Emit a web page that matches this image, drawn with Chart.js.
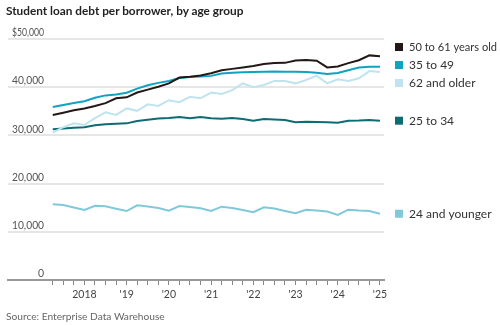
<!DOCTYPE html>
<html>
<head>
<meta charset="utf-8">
<script src="https://cdn.jsdelivr.net/npm/chart.js@4"></script>
<style>
  body { margin: 0; background: #fff; }
  #wrap { position: relative; width: 500px; height: 326px; }
  #title { position: absolute; left: 6px; top: 3px; font: bold 11.8px Lato, sans-serif; color: #222; }
  #source { position: absolute; left: 6px; top: 310px; font: 10.2px Lato, sans-serif; color: #666; }
</style>
</head>
<body>
<div id="wrap">
  <canvas id="debtChart" width="500" height="326"></canvas>
  <div id="title">Student loan debt per borrower, by age group</div>
  <div id="source">Source: Enterprise Data Warehouse</div>
</div>
<script>
// quarterly, 2017 Q2 through 2025 Q1
const quarters = [
  '2017 Q2','2017 Q3','2017 Q4',
  '2018 Q1','2018 Q2','2018 Q3','2018 Q4',
  '2019 Q1','2019 Q2','2019 Q3','2019 Q4',
  '2020 Q1','2020 Q2','2020 Q3','2020 Q4',
  '2021 Q1','2021 Q2','2021 Q3','2021 Q4',
  '2022 Q1','2022 Q2','2022 Q3','2022 Q4',
  '2023 Q1','2023 Q2','2023 Q3','2023 Q4',
  '2024 Q1','2024 Q2','2024 Q3','2024 Q4',
  '2025 Q1'
];

const age50to61 = [34230,34700,35200,35600,36100,36700,37700,37900,38900,39500,40100,40800,
  42000,42150,42450,42900,43500,43800,44100,44400,44800,45000,45050,45550,45650,45500,
  44100,44300,45000,45600,46600,46400];
const age35to49 = [35900,36300,36700,37100,37800,38300,38500,38850,39700,40400,40900,41300,
  41900,42100,42200,42350,42850,43000,43100,43150,43200,43250,43220,43200,43150,43000,
  42750,42950,43500,44100,44250,44250];
const age62plus = [30560,31700,32500,32150,33600,34800,34250,35600,35100,36450,36100,37300,
  36900,38000,37700,38900,38600,39400,40800,40000,40450,41300,41300,40800,41500,42400,
  40800,41650,41300,41850,43350,43150];
const age25to34 = [31260,31450,31600,31700,32100,32300,32400,32500,33000,33250,33500,33600,
  33800,33550,33800,33550,33450,33600,33400,33050,33400,33300,33200,32750,32850,32800,
  32720,32650,33050,33100,33200,33050];
const age24under = [15700,15560,15040,14520,15410,15290,14790,14310,15500,15250,14940,14380,
  15350,15150,14880,14310,15210,14940,14520,14050,15080,14830,14310,13840,14580,14420,
  14210,13490,14580,14420,14310,13750];

const yTicks = [0, 10000, 20000, 30000, 40000, 50000];
const yearLabels = {2018: '2018', 2019: "'19", 2020: "'20", 2021: "'21", 2022: "'22", 2023: "'23", 2024: "'24", 2025: "'25"};

function qToNum(q) {
  const [y, qq] = q.split(' Q');
  return +y + (+qq - 1) / 4;
}
const xs = quarters.map(qToNum);
const pts = arr => arr.map((v, i) => ({x: xs[i], y: v}));

const series = [
  {label: '50 to 61 years old', data: age50to61, color: '#231815'},
  {label: '35 to 49', data: age35to49, color: '#0fa3c0'},
  {label: '62 and older', data: age62plus, color: '#bfe4ef'},
  {label: '25 to 34', data: age25to34, color: '#0d6b74'},
  {label: '24 and younger', data: age24under, color: '#80c9da'}
];

const FONT = 'Lato, sans-serif';

const yLabelsPlugin = {
  id: 'yLabels',
  afterDatasetsDraw(chart) {
    const ctx = chart.ctx;
    const ys = chart.scales.y;
    ctx.save();
    ctx.font = '10.5px ' + FONT;
    ctx.fillStyle = '#555';
    ctx.textAlign = 'right';
    ctx.textBaseline = 'bottom';
    yTicks.forEach(v => {
      const txt = v === 50000 ? '$50,000' : v.toLocaleString('en-US');
      ctx.fillText(txt, 44, ys.getPixelForValue(v) - 1, 32);
    });
    ctx.restore();
  }
};

const sideLegend = {
  id: 'sideLegend',
  afterDraw(chart) {
    const ctx = chart.ctx;
    const items = chart.data.datasets.map((ds, i) => {
      const meta = chart.getDatasetMeta(i);
      return {label: ds.label, color: ds.borderColor, y: meta.data[meta.data.length - 1].y};
    });
    items.sort((a, b) => a.y - b.y);
    const gap = 18;
    for (let k = 0; k < 100; k++) {
      for (let i = 1; i < items.length; i++) {
        const d = items[i].y - items[i - 1].y;
        if (d < gap) {
          const push = (gap - d) / 2;
          items[i].y += push;
          items[i - 1].y -= push;
        }
      }
    }
    ctx.save();
    ctx.font = '12px ' + FONT;
    ctx.textBaseline = 'middle';
    items.forEach(it => {
      ctx.fillStyle = it.color;
      ctx.fillRect(395, it.y - 4, 8, 8);
      ctx.fillStyle = '#333';
      ctx.fillText(it.label, 409, it.y, 88);
    });
    ctx.restore();
  }
};

new Chart(document.getElementById('debtChart'), {
  type: 'line',
  data: {
    datasets: series.map(s => ({
      label: s.label,
      data: pts(s.data),
      borderColor: s.color,
      backgroundColor: s.color,
      borderWidth: 2,
      pointRadius: 0,
      tension: 0
    }))
  },
  options: {
    responsive: false,
    animation: false,
    layout: {padding: {left: 8, right: 116, top: 39, bottom: 0}},
    plugins: {legend: {display: false}, tooltip: {enabled: false}},
    scales: {
      x: {
        type: 'linear',
        min: 2016.19,
        max: 2025.095,
        afterBuildTicks(scale) {
          scale.ticks = xs.map(v => ({value: v}));
        },
        afterFit(scale) { scale.height = 46; },
        grid: {
          drawOnChartArea: false,
          drawTicks: true,
          tickLength: 5,
          color: '#888',
          lineWidth: 1
        },
        border: {display: true, color: '#999', width: 2},
        ticks: {
          autoSkip: false,
          maxRotation: 0,
          padding: 3,
          color: '#444',
          font: {family: FONT, size: 10.5},
          callback: v => (Math.abs(v - Math.round(v)) < 1e-6 ? (yearLabels[Math.round(v)] || '') : '')
        }
      },
      y: {
        min: 0,
        max: 50000,
        afterBuildTicks(scale) {
          scale.ticks = yTicks.map(v => ({value: v}));
        },
        afterFit(scale) { scale.width = 0; },
        ticks: {display: false},
        border: {display: false},
        grid: {
          color: ctx => ctx.tick && ctx.tick.value === 0 ? 'rgba(0,0,0,0)' : '#e6e6e6',
          lineWidth: 2,
          drawTicks: false
        }
      }
    }
  },
  plugins: [yLabelsPlugin, sideLegend]
});
</script>
</body>
</html>
